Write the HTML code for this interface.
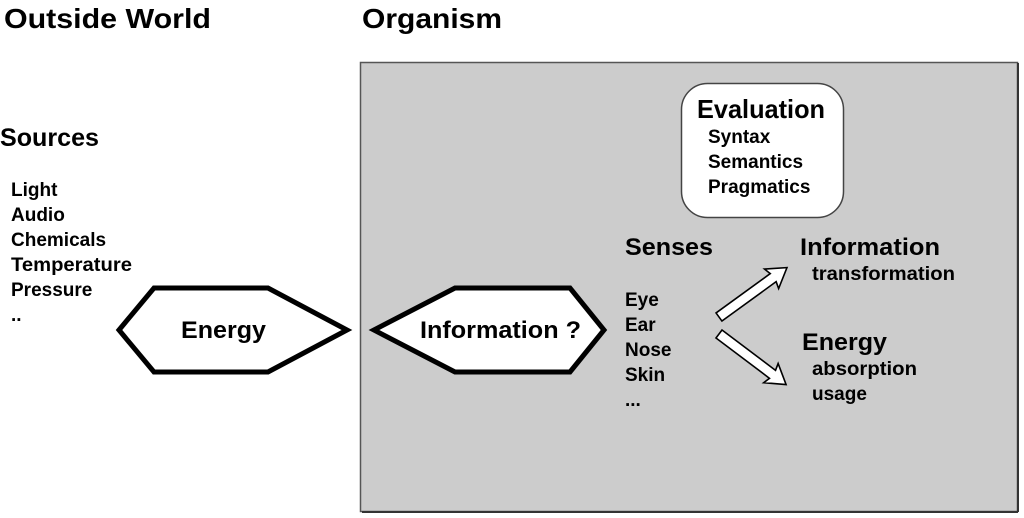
<!DOCTYPE html>
<html><head><meta charset="utf-8"><style>
html,body{margin:0;padding:0;background:#fff;}
svg{display:block;font-family:"Liberation Sans",Arial,sans-serif;font-weight:bold;}
</style></head><body>
<svg width="1024" height="518" viewBox="0 0 1024 518">
<rect x="360.5" y="62.5" width="657" height="449" fill="#cccccc" stroke="#555" stroke-width="1.5"/>
<line x1="362" y1="512" x2="1018" y2="512" stroke="#333" stroke-width="2"/>
<line x1="1018" y1="63" x2="1018" y2="512" stroke="#333" stroke-width="2"/>
<text x="4" y="28" font-size="28" textLength="207" lengthAdjust="spacingAndGlyphs">Outside World</text>
<text x="362" y="28" font-size="28" textLength="140" lengthAdjust="spacingAndGlyphs">Organism</text>
<text x="0" y="146" font-size="25" textLength="99" lengthAdjust="spacingAndGlyphs">Sources</text>
<g font-size="19">
<text x="11" y="196">Light</text>
<text x="11" y="221">Audio</text>
<text x="11" y="246">Chemicals</text>
<text x="11" y="271" textLength="121" lengthAdjust="spacingAndGlyphs">Temperature</text>
<text x="11" y="296">Pressure</text>
<text x="11" y="321">..</text>
</g>
<polygon points="119,330 154,288 268,288 347,330 268,372 154,372" fill="#fff" stroke="#000" stroke-width="5" stroke-linejoin="miter"/>
<text x="181" y="338" font-size="24" textLength="85" lengthAdjust="spacingAndGlyphs">Energy</text>
<polygon points="374,330 455,288 570,288 604,330 570,372 455,372" fill="#fff" stroke="#000" stroke-width="5"/>
<text x="420" y="338" font-size="24" textLength="161" lengthAdjust="spacingAndGlyphs">Information ?</text>
<rect x="681.5" y="83.5" width="162" height="134" rx="26" fill="#fff" stroke="#444" stroke-width="1.5"/>
<text x="697" y="118" font-size="26" textLength="128" lengthAdjust="spacingAndGlyphs">Evaluation</text>
<g font-size="19">
<text x="708" y="143">Syntax</text>
<text x="708" y="168">Semantics</text>
<text x="708" y="193">Pragmatics</text>
</g>
<text x="625" y="255" font-size="24" textLength="88" lengthAdjust="spacingAndGlyphs">Senses</text>
<g font-size="19">
<text x="625" y="306">Eye</text>
<text x="625" y="331">Ear</text>
<text x="625" y="356">Nose</text>
<text x="625" y="381">Skin</text>
<text x="625" y="406">...</text>
</g>
<text x="800" y="255" font-size="24" textLength="140" lengthAdjust="spacingAndGlyphs">Information</text>
<text x="812" y="280" font-size="19" textLength="143" lengthAdjust="spacingAndGlyphs">transformation</text>
<text x="802" y="350" font-size="24" textLength="85" lengthAdjust="spacingAndGlyphs">Energy</text>
<text x="812" y="375" font-size="19" textLength="105" lengthAdjust="spacingAndGlyphs">absorption</text>
<text x="812" y="400" font-size="19">usage</text>
<g fill="#fff" stroke="#000" stroke-width="1.6">
<polygon transform="translate(719,317) rotate(-36)" points="0,-5 67,-5 65,-12 84,0 65,12 67,5 0,5"/>
<polygon transform="translate(719,334) rotate(37)" points="0,-5 67,-5 65,-12 84,0 65,12 67,5 0,5"/>
</g>
</svg>
</body></html>
